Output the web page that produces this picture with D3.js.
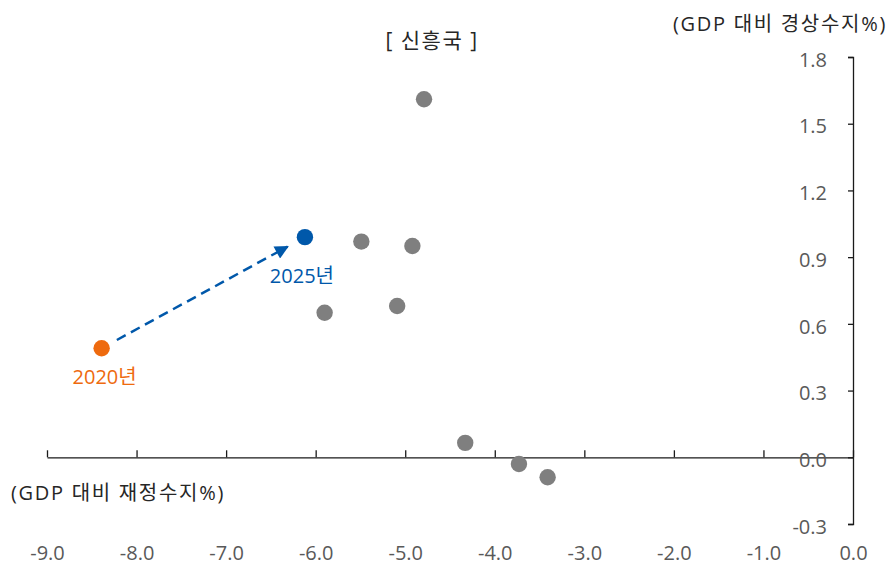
<!DOCTYPE html>
<html>
<head>
<meta charset="utf-8">
<script src="https://cdn.jsdelivr.net/npm/d3@7"></script>
<style>
  html, body { margin: 0; padding: 0; background: #fff; }
  svg { display: block; font-family: "Open Sans", "Noto Sans CJK KR", sans-serif; }
</style>
</head>
<body>
<svg id="chart" width="888" height="565"></svg>
<script>
// Emerging economies: fiscal balance (x) vs current account balance (y), % of GDP
const otherFiscal  = [-4.79, -5.49, -4.92, -5.90, -5.09, -4.33, -3.73, -3.41];
const otherCurrent = [ 1.61,  0.97,  0.95,  0.65,  0.68,  0.065, -0.03, -0.09];

const highlightYears   = ["2020년", "2025년"];
const highlightFiscal  = [-8.39, -6.12];
const highlightCurrent = [ 0.49,  0.99];

const xTicks = [-9, -8, -7, -6, -5, -4, -3, -2, -1, 0];
const yTicks = [-0.3, 0, 0.3, 0.6, 0.9, 1.2, 1.5, 1.8];

const FONT = "'Open Sans', 'Noto Sans CJK KR', sans-serif";
const svg = d3.select("#chart");
const textColor = "#595959";
const titleColor = "#262626";
const axisColor = "#1a1a1a";
const gray = "#7f7f7f";
const blue = "#0058AA";
const orange = "#EE6A0E";
const fmt = d => d.toFixed(1);

const x = d3.scaleLinear().domain([-9, 0]).range([47, 853]);
const y = d3.scaleLinear().domain([-0.3, 1.8]).range([524, 57]);

// x axis line with upward ticks at y = 0
const xAxisLine = svg.append("g")
  .attr("transform", `translate(0,${y(0)})`)
  .call(d3.axisTop(x).tickValues(xTicks).tickSize(7).tickSizeOuter(0).tickFormat(""));
xAxisLine.selectAll("path, line").attr("stroke", axisColor).attr("stroke-width", 1.3);

// x tick labels along the bottom
const xLabels = svg.append("g")
  .attr("transform", `translate(0,546)`)
  .call(d3.axisBottom(x).tickValues(xTicks).tickSize(0).tickPadding(0).tickFormat(fmt));
xLabels.select(".domain").remove();
xLabels.selectAll("text").attr("fill", textColor).attr("font-size", 20).attr("font-family", FONT);

// y axis on the right edge
const yAxis = svg.append("g")
  .attr("transform", `translate(${x(0)},0)`)
  .call(d3.axisLeft(y).tickValues(yTicks).tickSize(5).tickSizeOuter(5).tickPadding(21).tickFormat(fmt));
yAxis.selectAll("path, line").attr("stroke", axisColor).attr("stroke-width", 1.3);
yAxis.selectAll("text").attr("fill", textColor).attr("font-size", 20).attr("font-family", FONT)
  .attr("dy", "0.46em");

// titles
svg.append("text").attr("x", 432).attr("y", 48).attr("text-anchor", "middle")
  .attr("font-size", 21).attr("letter-spacing", 1.5).attr("fill", titleColor).text("[ 신흥국 ]");
svg.append("text").attr("x", 887).attr("y", 31).attr("text-anchor", "end")
  .attr("font-size", 20).attr("letter-spacing", 1.7).attr("fill", titleColor).text("(GDP 대비 경상수지%)");
svg.append("text").attr("x", 11).attr("y", 500).attr("text-anchor", "start")
  .attr("font-size", 20).attr("letter-spacing", 1.7).attr("fill", titleColor).text("(GDP 대비 재정수지%)");

// other emerging economies
svg.append("g").selectAll("circle")
  .data(d3.zip(otherFiscal, otherCurrent))
  .join("circle")
  .attr("cx", d => x(d[0]))
  .attr("cy", d => y(d[1]))
  .attr("r", 8.2)
  .attr("fill", gray);

// arrow from 2020 to 2025
const defs = svg.append("defs");
defs.append("marker")
  .attr("id", "arrowHead")
  .attr("viewBox", "0 0 10 10")
  .attr("refX", 9).attr("refY", 5)
  .attr("markerWidth", 6.5).attr("markerHeight", 5.5)
  .attr("markerUnits", "strokeWidth")
  .attr("orient", "auto")
  .append("path").attr("d", "M0,0 L10,5 L0,10 Z").attr("fill", blue);

const x0 = x(highlightFiscal[0]), y0 = y(highlightCurrent[0]);
const x1 = x(highlightFiscal[1]), y1 = y(highlightCurrent[1]);
const t0 = 0.075, t1 = 0.915;
svg.append("line")
  .attr("x1", x0 + (x1 - x0) * t0).attr("y1", y0 + (y1 - y0) * t0)
  .attr("x2", x0 + (x1 - x0) * t1).attr("y2", y0 + (y1 - y0) * t1)
  .attr("stroke", blue).attr("stroke-width", 2.5)
  .attr("stroke-dasharray", "10,6")
  .attr("marker-end", "url(#arrowHead)");

// highlighted points and labels
const hiColors = [orange, blue];
const hiLabelOffset = [[3, 36], [-3, 46]];
highlightYears.forEach((label, i) => {
  svg.append("circle")
    .attr("cx", x(highlightFiscal[i])).attr("cy", y(highlightCurrent[i]))
    .attr("r", 8.2).attr("fill", hiColors[i]);
  svg.append("text")
    .attr("x", x(highlightFiscal[i]) + hiLabelOffset[i][0])
    .attr("y", y(highlightCurrent[i]) + hiLabelOffset[i][1])
    .attr("text-anchor", "middle")
    .attr("font-size", 20)
    .attr("fill", hiColors[i])
    .text(label);
});
</script>
</body>
</html>
